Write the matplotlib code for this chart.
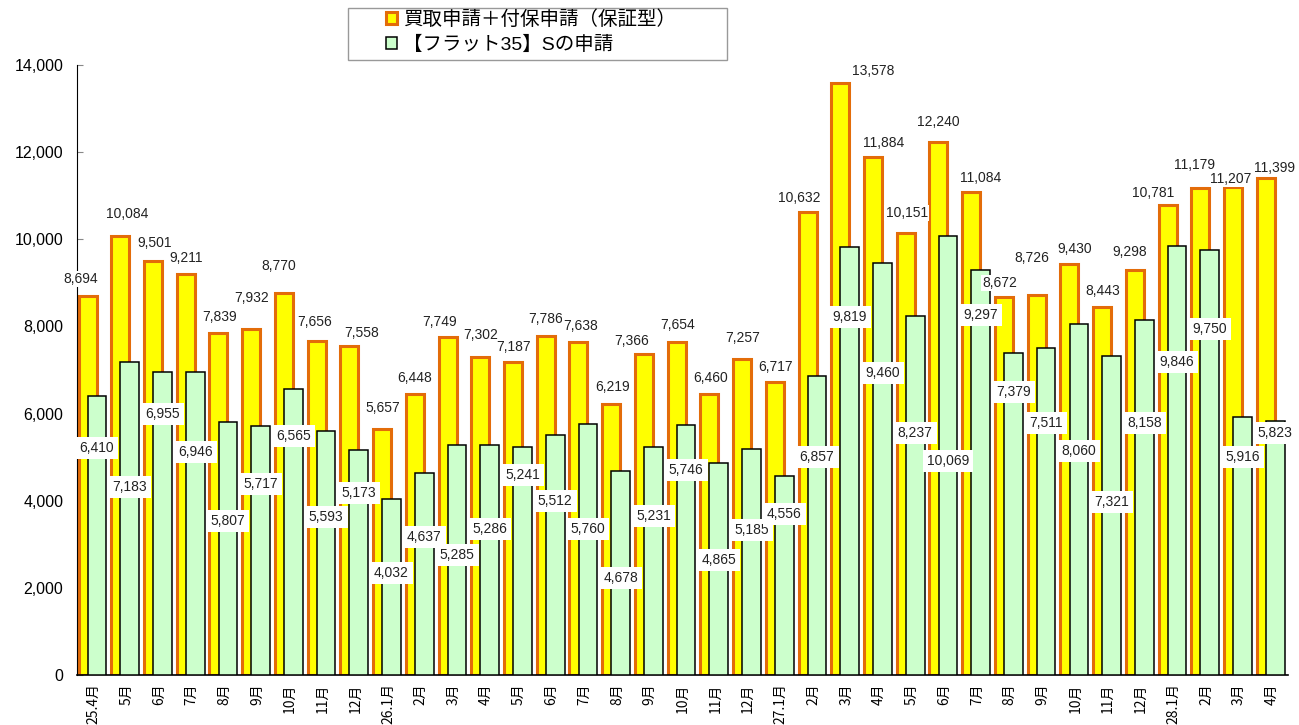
import matplotlib.pyplot as plt
from matplotlib.patches import Rectangle
import numpy as np

plt.rcParams['font.family'] = ['Liberation Sans', 'Noto Sans CJK JP']

months = ['25.4月', '5月', '6月', '7月', '8月', '9月', '10月', '11月', '12月',
          '26.1月', '2月', '3月', '4月', '5月', '6月', '7月', '8月', '9月', '10月', '11月', '12月',
          '27.1月', '2月', '3月', '4月', '5月', '6月', '7月', '8月', '9月', '10月', '11月', '12月',
          '28.1月', '2月', '3月', '4月']

kaitori = [8694, 10084, 9501, 9211, 7839, 7932, 8770, 7656, 7558, 5657, 6448, 7749, 7302,
           7187, 7786, 7638, 6219, 7366, 7654, 6460, 7257, 6717, 10632, 13578, 11884,
           10151, 12240, 11084, 8672, 8726, 9430, 8443, 9298, 10781, 11179, 11207, 11399]

flat35s = [6410, 7183, 6955, 6946, 5807, 5717, 6565, 5593, 5173, 4032, 4637, 5285, 5286,
           5241, 5512, 5760, 4678, 5231, 5746, 4865, 5185, 4556, 6857, 9819, 9460,
           8237, 10069, 9297, 7379, 7511, 8060, 7321, 8158, 9846, 9750, 5916, 5823]

# label placement as in the original (y in data units, x offset in categories)
yellow_label_y = [9089, 10580, 9915, 9571, 8216, 8652, 9387, 8102, 7849, 6128, 6816, 8102,
                  7803, 7528, 8170, 8010, 6610, 7666, 8033, 6816, 7734, 7069, 10948, 13862,
                  12210, 10603, 12692, 11407, 8997, 9571, 9777, 8813, 9708, 11062, 11705,
                  11384, 11636]
yellow_label_dx = [-0.40, 0.03, -0.12, -0.18, -0.15, -0.15, -0.34, -0.24, 0.21, -0.15, -0.18,
                   -0.43, -0.18, -0.15, -0.18, -0.12, -0.15, -0.55, -0.15, -0.15, -0.15, -0.15,
                   -0.43, 0.82, 0.15, -0.15, -0.18, 0.12, -0.31, -0.34, -0.03, -0.15, -0.34,
                   -0.61, -0.37, -0.24, 0.09]
green_label_y = [5210, 4315, 5990, 5118, 3534, 4384, 5485, 3626, 4177, 2341, 3167, 2754,
                 3351, 4590, 3993, 3351, 2226, 3649, 4705, 2639, 3328, 3695, 5003, 8216,
                 6931, 5554, 4911, 8262, 6495, 5784, 5141, 3970, 5784, 7184, 7941, 5003, 5554]

x = np.arange(len(months))

fig = plt.figure(figsize=(12.99, 7.25), dpi=100)
ax = fig.add_axes([0.0593, 0.069, 0.9322, 0.8413])

ax.bar(x - 0.18, kaitori, width=0.55, color='#FFFF00', edgecolor='#E36C09', linewidth=2.2,
       label='買取申請＋付保申請（保証型）', zorder=2)
ax.bar(x + 0.11, flat35s, width=0.57, color='#CCFFCC', edgecolor='black', linewidth=1.1,
       label='【フラット35】Sの申請', zorder=3)

for i in range(len(x)):
    ax.text(x[i] + yellow_label_dx[i], yellow_label_y[i], f'{kaitori[i]:,}', ha='center',
            va='center', fontsize=10, color='#222222', zorder=5, clip_on=False,
            bbox=dict(facecolor='white', edgecolor='none', pad=1.0))
for i in range(len(x)):
    ax.text(x[i] + 0.11, green_label_y[i], f'{flat35s[i]:,}', ha='center', va='center',
            fontsize=10, color='#222222', zorder=6,
            bbox=dict(facecolor='white', edgecolor='none', pad=3))

ax.set_xlim(-0.5, len(x) - 0.5)
ax.set_ylim(0, 14000)
ax.set_yticks(np.arange(0, 14001, 2000))
ax.set_yticklabels([f'{v:,}' for v in range(0, 14001, 2000)], fontsize=11.5)
ax.set_xticks(x)
ax.set_xticklabels(months, rotation=90, fontsize=10, family=['Noto Sans CJK JP'])
ax.tick_params(axis='y', direction='in', length=4, color='#888888', pad=10)
ax.tick_params(axis='x', length=0, pad=6)
for s in ['top', 'right']:
    ax.spines[s].set_visible(False)
ax.spines['left'].set_color('black')
ax.spines['bottom'].set_color('black')
ax.spines['bottom'].set_linewidth(1.2)

# legend box
fig.patches.append(Rectangle((348 / 1299, 1 - 60 / 725), 379 / 1299, 52 / 725,
                             transform=fig.transFigure, fill=False, edgecolor='#999999',
                             linewidth=1.0))
fig.legend(loc='upper left', bbox_to_anchor=(386 / 1299, 1 - 10 / 725), fontsize=14,
           frameon=False, handlelength=0.55, handleheight=0.55, handletextpad=0.35,
           borderpad=0.0, labelspacing=0.35, borderaxespad=0)

fig.savefig('out.png', dpi=100)
